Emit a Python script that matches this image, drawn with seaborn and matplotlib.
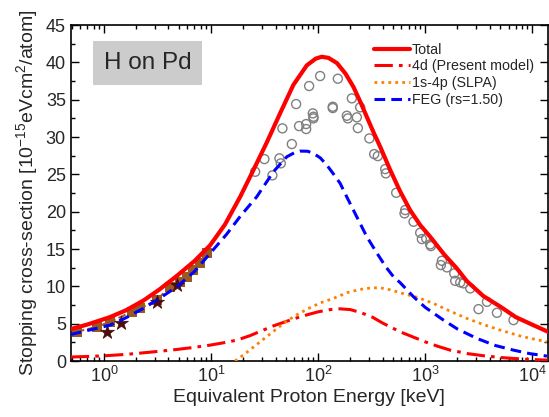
import numpy as np
import pandas as pd
import matplotlib
matplotlib.use("Agg")
import matplotlib.pyplot as plt
from matplotlib.ticker import LogLocator, MultipleLocator, NullFormatter
from matplotlib.lines import Line2D
import seaborn as sns

# ---------------- data ----------------
E_total = [0.49, 0.7, 1.14, 1.6, 2.33, 3.3, 4.78, 7, 9.79, 13.5, 18.7, 24.9, 33.2, 44.2, 58.8, 78.4, 95, 108, 125,
           150, 180, 214, 250, 285, 330, 380, 471, 580, 724, 900, 1114, 1500, 1978, 2454, 3500, 5023, 7000, 10280, 14190]
S_total = [4.3, 4.9, 5.9, 6.8, 8.1, 9.6, 11.4, 13.4, 15.5, 18.3, 22.0, 25.6, 29.3, 33.2, 37.0, 39.6, 40.5, 40.75, 40.6,
           39.9, 38.5, 36.7, 34.6, 32.7, 30.6, 28.7, 25.6, 22.8, 20.2, 18.2, 16.65, 14.3, 12.4, 10.7, 8.7, 7.3, 5.9, 4.8, 3.9]

E_4d = [0.49, 0.7, 1.0, 1.6, 2.33, 3.3, 4.78, 7, 9.79, 13, 17.4, 23, 29, 38, 50, 70, 100, 130, 160, 200, 250,
        320, 400, 584, 780, 1000, 1300, 1714, 2500, 3500, 5023, 8000, 14000]
S_4d = [0.55, 0.62, 0.71, 0.9, 1.11, 1.32, 1.56, 1.85, 2.14, 2.45, 2.81, 3.4, 4.0, 4.7, 5.3, 6.0, 6.6, 6.9, 7.0, 6.9, 6.5,
        5.9, 5.1, 3.92, 3.2, 2.58, 2.0, 1.47, 1.0, 0.72, 0.49, 0.27, 0.13]

E_slpa = [16.8, 18, 20, 25, 30, 40, 50, 65, 80, 105, 139, 190, 247, 310, 380, 470, 584, 861, 1196, 1700, 2454,
          3500, 5023, 8000, 13710]
S_slpa = [0.0, 0.4, 0.8, 1.9, 2.8, 4.2, 5.3, 6.3, 7.0, 7.8, 8.4, 9.2, 9.6, 9.8, 9.82, 9.55, 9.15, 8.5, 7.72, 6.7, 5.71,
          4.9, 4.15, 3.3, 2.58]

E_feg = [0.49, 0.7, 1.14, 1.6, 2.33, 3.3, 4.78, 7, 9.79, 14, 19, 26.7, 38.2, 51, 60, 67.9, 80, 90.4, 105, 120.5,
         140, 160.6, 185, 230, 285, 360, 430, 506, 584, 778, 1000, 1483, 2000, 3041, 4500, 6683, 9500, 13710]
S_feg = [3.57, 4.1, 4.82, 5.8, 7.06, 8.4, 9.95, 12.0, 14.42, 17.0, 19.5, 22.0, 25.35, 27.36, 27.9, 28.12, 28.1, 27.82, 27.2, 26.25,
         25.0, 23.8, 22.0, 19.3, 16.65, 14.3, 12.6, 11.29, 10.5, 8.61, 7.2, 5.49, 4.3, 3.04, 2.1, 1.47, 1.0, 0.67]

E_exp = [25.8, 31.5, 37.4, 43.5, 44.8, 46.4, 56.8, 62.3, 66.4, 77.3, 77.3, 82.4, 89.2, 90.4, 90.4,
         104.4, 137, 137, 152.8, 185.4, 189.5, 206.5, 230, 235, 247, 301, 334, 361, 423, 429,
         536, 650, 641, 778, 898, 931, 1021, 1114, 1130, 1432, 1402, 1596, 1867, 1907, 2125,
         2280, 2635, 3150, 3775, 4677, 6683]
S_exp = [25.35, 27.05, 24.87, 27.15, 26.48, 31.16, 29.06, 34.42, 31.47, 31.74, 31.07, 36.83, 33.17, 32.72, 32.50,
         38.17, 34.06, 33.88, 37.81, 32.85, 32.50, 35.18, 32.64, 31.20, 33.98, 29.82, 27.72, 27.45, 25.71, 25.14,
         22.54, 20.22, 19.78, 18.66, 17.18, 16.34, 16.43, 15.63, 15.40, 13.43, 12.86, 12.55, 11.75, 10.75, 10.54,
         10.41, 9.74, 6.96, 7.94, 6.47, 5.49]

E_sq = [0.556, 0.855, 1.14, 1.82, 2.17, 3.11, 4.14, 5.13, 5.93, 6.83, 7.89, 9.12]
S_sq = [3.92, 4.59, 5.26, 6.60, 7.06, 8.17, 9.95, 10.62, 11.29, 12.19, 13.08, 14.42]

E_star = [1.06, 1.43, 3.11, 4.78]
S_star = [3.92, 5.05, 7.94, 10.18]

legend_labels = ["Total", "4d (Present model)", "1s-4p (SLPA)", "FEG (rs=1.50)"]

# ---------------- style ----------------
sns.set_theme(style="white")
plt.rcParams["font.family"] = ["Liberation Sans", "DejaVu Sans"]
plt.rcParams["mathtext.fontset"] = "custom"
plt.rcParams["mathtext.rm"] = "Liberation Sans"
plt.rcParams["mathtext.it"] = "Liberation Sans:italic"
plt.rcParams["mathtext.bf"] = "Liberation Sans:bold"
plt.rcParams["mathtext.default"] = "regular"

fig = plt.figure(figsize=(5.49, 4.17), dpi=100)
ax = fig.add_axes([0.129, 0.134, 0.869, 0.806])
ax.set_xscale("log")

# experimental circles
sns.scatterplot(x=E_exp, y=S_exp, ax=ax, marker="o", s=42, facecolor="none",
                edgecolor="#808080", linewidth=1.0, zorder=3)

# low-energy data
sns.lineplot(x=E_sq, y=S_sq, ax=ax, color="#9a5a1e", linestyle="--", lw=1.5,
             marker="s", markersize=7, markeredgewidth=0, zorder=4, sort=False)
sns.scatterplot(x=E_star, y=S_star, ax=ax, marker="*", s=110, color="#4a0c0c",
                edgecolor="#4a0c0c", linewidth=0.5, zorder=5)

# model curves
sns.lineplot(x=E_total, y=S_total, ax=ax, color="#ff0000", lw=3.0, zorder=6)
sns.lineplot(x=E_4d, y=S_4d, ax=ax, color="#ff0000", lw=2.2, zorder=6,
             linestyle=(0, (6, 2, 1.2, 2)))
sns.lineplot(x=E_slpa, y=S_slpa, ax=ax, color="#ff8000", lw=2.0, zorder=6,
             linestyle=(0, (1, 1.5)))
sns.lineplot(x=E_feg, y=S_feg, ax=ax, color="#0000ff", lw=2.2, zorder=6,
             linestyle=(0, (3.5, 2)))

ax.set_xlim(0.49, 1.4e4)
ax.set_ylim(0, 45)

ax.xaxis.set_major_locator(LogLocator(base=10, numticks=10))
ax.xaxis.set_minor_locator(LogLocator(base=10, subs=np.arange(2, 10), numticks=20))
ax.xaxis.set_minor_formatter(NullFormatter())
ax.yaxis.set_major_locator(MultipleLocator(5))
ax.yaxis.set_minor_locator(MultipleLocator(2.5))

ax.tick_params(which="both", direction="in", top=True, right=True, bottom=True, left=True,
               color="black", labelsize=13)
ax.tick_params(which="major", length=6, width=1)
ax.tick_params(which="minor", length=3, width=1)
for sp in ax.spines.values():
    sp.set_color("black")
    sp.set_linewidth(1.2)

ax.set_xlabel("Equivalent Proton Energy [keV]", fontsize=14, labelpad=2)
ax.set_ylabel("Stopping cross-section [10$^{-15}$eVcm$^{2}$/atom]", fontsize=14, labelpad=4)

ax.text(0.161, 0.887, "H on Pd", transform=ax.transAxes, fontsize=17.5,
        ha="center", va="center", zorder=7,
        bbox=dict(boxstyle="square,pad=0.45", facecolor="#cccccc", edgecolor="none"))

handles = [
    Line2D([], [], color="#ff0000", lw=3.0),
    Line2D([], [], color="#ff0000", lw=2.2, linestyle=(0, (6, 2, 1.2, 2))),
    Line2D([], [], color="#ff8000", lw=2.0, linestyle=(0, (1, 1.5))),
    Line2D([], [], color="#0000ff", lw=2.2, linestyle=(0, (3.5, 2))),
]
leg = ax.legend(handles, legend_labels, loc="upper left", bbox_to_anchor=(0.635, 0.947),
                frameon=False, fontsize=10.3, handlelength=2.5, handletextpad=0.15,
                labelspacing=0.18, borderpad=0, borderaxespad=0)

fig.savefig("out.png", dpi=100)
